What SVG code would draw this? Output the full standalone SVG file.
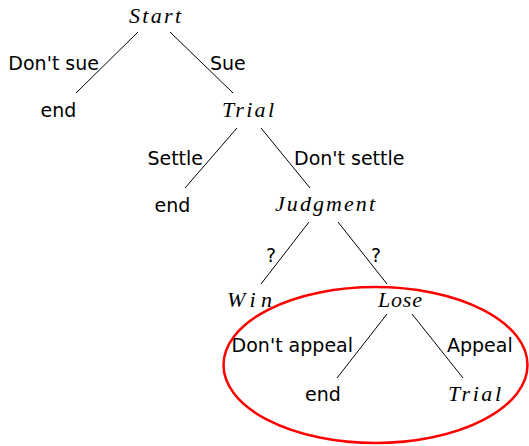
<svg xmlns="http://www.w3.org/2000/svg" width="529" height="446" viewBox="0 0 529 446">
  <style>
    .state { font-family: "Liberation Serif", "DejaVu Serif", serif; font-style: italic; font-size: 22px; fill: #000; }
    .leaf { font-family: "DejaVu Sans", "Liberation Sans", sans-serif; font-size: 19px; fill: #000; }
    .lbl { font-family: "DejaVu Sans", "Liberation Sans", sans-serif; font-size: 19px; fill: #000; }
    .edge { stroke: #000; stroke-width: 1; fill: none; }
    .focus { stroke: #ff0000; stroke-width: 2.5; fill: none; }
  </style>
  <rect width="529" height="446" fill="#fff"/>

  <g id="connectors">
    <line class="edge" x1="138" y1="32" x2="76" y2="93"/>
    <line class="edge" x1="170" y1="32" x2="233" y2="93"/>
    <line class="edge" x1="237" y1="128" x2="185" y2="188"/>
    <line class="edge" x1="261" y1="128" x2="310" y2="188"/>
    <line class="edge" x1="309" y1="222" x2="261" y2="284"/>
    <line class="edge" x1="338" y1="222" x2="387" y2="284"/>
    <line class="edge" x1="387" y1="314" x2="337" y2="378"/>
    <line class="edge" x1="412" y1="314" x2="463" y2="378"/>
    <text class="lbl" x="99" y="70" text-anchor="end">Don't sue</text>
    <text class="lbl" x="210" y="70">Sue</text>
    <text class="lbl" x="203" y="165" text-anchor="end">Settle</text>
    <text class="lbl" x="294" y="165">Don't settle</text>
    <text class="lbl" x="271" y="262" text-anchor="middle">?</text>
    <text class="lbl" x="376" y="262" text-anchor="middle">?</text>
    <text class="lbl" x="353" y="352" text-anchor="end">Don't appeal</text>
    <text class="lbl" x="447" y="352">Appeal</text>
  </g>

  <g id="start"><text class="state" x="129" y="23" textLength="52">Start</text></g>
  <g id="end-no-suit"><text class="leaf" x="58.5" y="117" text-anchor="middle">end</text></g>
  <g id="trial"><text class="state" x="222" y="117" textLength="52">Trial</text></g>
  <g id="end-settle"><text class="leaf" x="172.5" y="212" text-anchor="middle">end</text></g>
  <g id="judgment"><text class="state" x="275" y="211" textLength="100">Judgment</text></g>
  <g id="win"><text class="state" x="227" y="307" textLength="45">Win</text></g>
  <g id="lose"><text class="state" x="378" y="307" textLength="44">Lose</text></g>
  <g id="end-no-appeal"><text class="leaf" x="323" y="401" text-anchor="middle">end</text></g>
  <g id="trial-appeal"><text class="state" x="448" y="401" textLength="53">Trial</text></g>

  <g id="lose-subtree-highlight">
    <ellipse class="focus" cx="375.5" cy="365" rx="152" ry="78"/>
  </g>
</svg>
